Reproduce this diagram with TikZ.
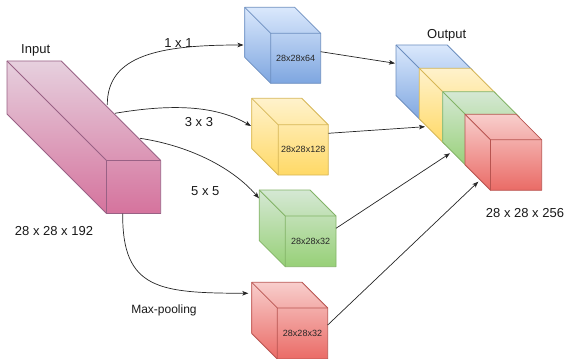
\documentclass[tikz,border=0pt]{standalone}
\usepackage{fontspec}
\setmainfont{Liberation Sans}
\usetikzlibrary{arrows.meta}
\definecolor{pinkL}{HTML}{E6D0DE}\definecolor{pinkD}{HTML}{D5739D}\definecolor{pinkS}{HTML}{996185}
\definecolor{blueL}{HTML}{DAE8FC}\definecolor{blueD}{HTML}{7EA6E0}\definecolor{blueS}{HTML}{6C8EBF}
\definecolor{yelL}{HTML}{FFF2CC}\definecolor{yelD}{HTML}{FFD966}\definecolor{yelS}{HTML}{D6B656}
\definecolor{grnL}{HTML}{D5E8D4}\definecolor{grnD}{HTML}{97D077}\definecolor{grnS}{HTML}{82B366}
\definecolor{redL}{HTML}{F8CECC}\definecolor{redD}{HTML}{EA6B66}\definecolor{redS}{HTML}{B85450}
\tikzset{
  conn/.style={draw=black!85, line width=0.7pt, -{Stealth[length=6pt,width=4.5pt,inset=1.5pt]}},
  lbl/.style={font=\fontsize{13}{15}\selectfont, text=black!90, inner sep=0pt},
  cubetext/.style={font=\fontsize{9}{11}\selectfont, text=black!85, inner sep=0pt},
  cubeline/.style={line width=0.8pt, line join=round}
}
% #1 x0, #2 y0, #3 w, #4 h, #5 depth, #6 colour prefix, #7 name, #8 text
\newcommand{\mycube}[8]{%
  \pgfmathsetmacro{\xa}{#1}\pgfmathsetmacro{\ya}{#2}%
  \pgfmathsetmacro{\xb}{#1+#3}\pgfmathsetmacro{\yb}{#2+#4}%
  \pgfmathsetmacro{\xf}{#1+#5}\pgfmathsetmacro{\yf}{#2+#5}%
  \pgfmathsetmacro{\fw}{#3-#5}\pgfmathsetmacro{\fh}{#4-#5}%
  \shade[top color=#6L, bottom color=#6D] (\xa,\ya) -- (\xb-#5,\ya) -- (\xb,\yf) -- (\xb,\yb) -- (\xf,\yb) -- (\xa,\yb-#5) -- cycle;
  \draw[cubeline, draw=#6S] (\xa,\ya) -- (\xb-#5,\ya) -- (\xb,\yf) -- (\xb,\yb) -- (\xf,\yb) -- (\xa,\yb-#5) -- cycle;
  \draw[cubeline, draw=#6S] (\xa,\ya) -- (\xf,\yf) -- (\xb,\yf) (\xf,\yf) -- (\xf,\yb);
  \node[cubetext, minimum width=\fw pt, minimum height=\fh pt] (#7) at ({(\xf+\xb)/2},{(\yf+\yb)/2}) {#8};%
}
\begin{document}
\begin{tikzpicture}[x=1pt, y=-1pt]
\useasboundingbox (0,0) rectangle (569,358);
% input
\mycube{7}{61}{153.7}{152.5}{99.5}{pink}{inp}{}
% branch cubes
\mycube{244.7}{7.3}{76}{76}{26}{blue}{cb}{28x28x64}
\mycube{251.7}{98.3}{76.6}{76.7}{26.5}{yel}{cy}{28x28x128}
\mycube{259.3}{190}{76.7}{76.7}{26}{grn}{cg}{28x28x32}
\mycube{251.7}{282.3}{76}{76.7}{25.6}{red}{cr}{28x28x32}
% output stack
\mycube{396}{45}{76.7}{76}{25.5}{blue}{ob}{}
\mycube{419.3}{68.3}{76.7}{76}{25.5}{yel}{oy}{}
\mycube{442.7}{91.7}{76.7}{76}{25.5}{grn}{og}{}
\mycube{465}{114.3}{76.7}{76}{25.5}{red}{orr}{}
% labels
\node[lbl] (tin) at (35.7,50) {Input};
\node[lbl] (tinsz) at (54,231.5) {28 x 28 x 192};
\node[lbl] (tout) at (446.7,35) {Output};
\node[lbl] (toutsz) at (525,212.7) {28 x 28 x 256};
\node[lbl] (t1) at (178.5,42.7) {1 x 1};
\node[lbl] (t3) at (199,121.7) {3 x 3};
\node[lbl] (t5) at (205.3,191) {5 x 5};
\node[lbl, font=\fontsize{12}{14}\selectfont] (tmp) at (164,310) {Max-pooling};
% connector end points
\coordinate (s1) at (107.3,105);
\coordinate (e1) at (243.5,45);
\coordinate (s2) at (115,113.3);
\coordinate (e2) at (251,126);
\coordinate (s3) at (140,138.3);
\coordinate (e3) at (259,198.3);
\coordinate (s4) at (122.7,213.5);
\coordinate (e4) at (248.3,293.3);
\coordinate (sb) at (320.7,51.7);
\coordinate (eb) at (395,63.3);
\coordinate (sy) at (328.3,133.3);
\coordinate (ey) at (425,126.7);
\coordinate (sg) at (336,228.3);
\coordinate (eg) at (450,153.3);
\coordinate (sr) at (327.7,325);
\coordinate (er) at (478.3,181.7);
% connectors
\draw[conn] (s1) .. controls (107,55) and (160,45) .. (e1);
\draw[conn] (s2) .. controls (170,104) and (215,105) .. (e2);
\draw[conn] (s3) .. controls (185,145) and (230,165) .. (e3);
\draw[conn] (s4) .. controls (122,290) and (160,293) .. (e4);
\draw[conn] (sb) -- (eb);
\draw[conn] (sy) -- (ey);
\draw[conn] (sg) -- (eg);
\draw[conn] (sr) -- (er);
\end{tikzpicture}
\end{document}
